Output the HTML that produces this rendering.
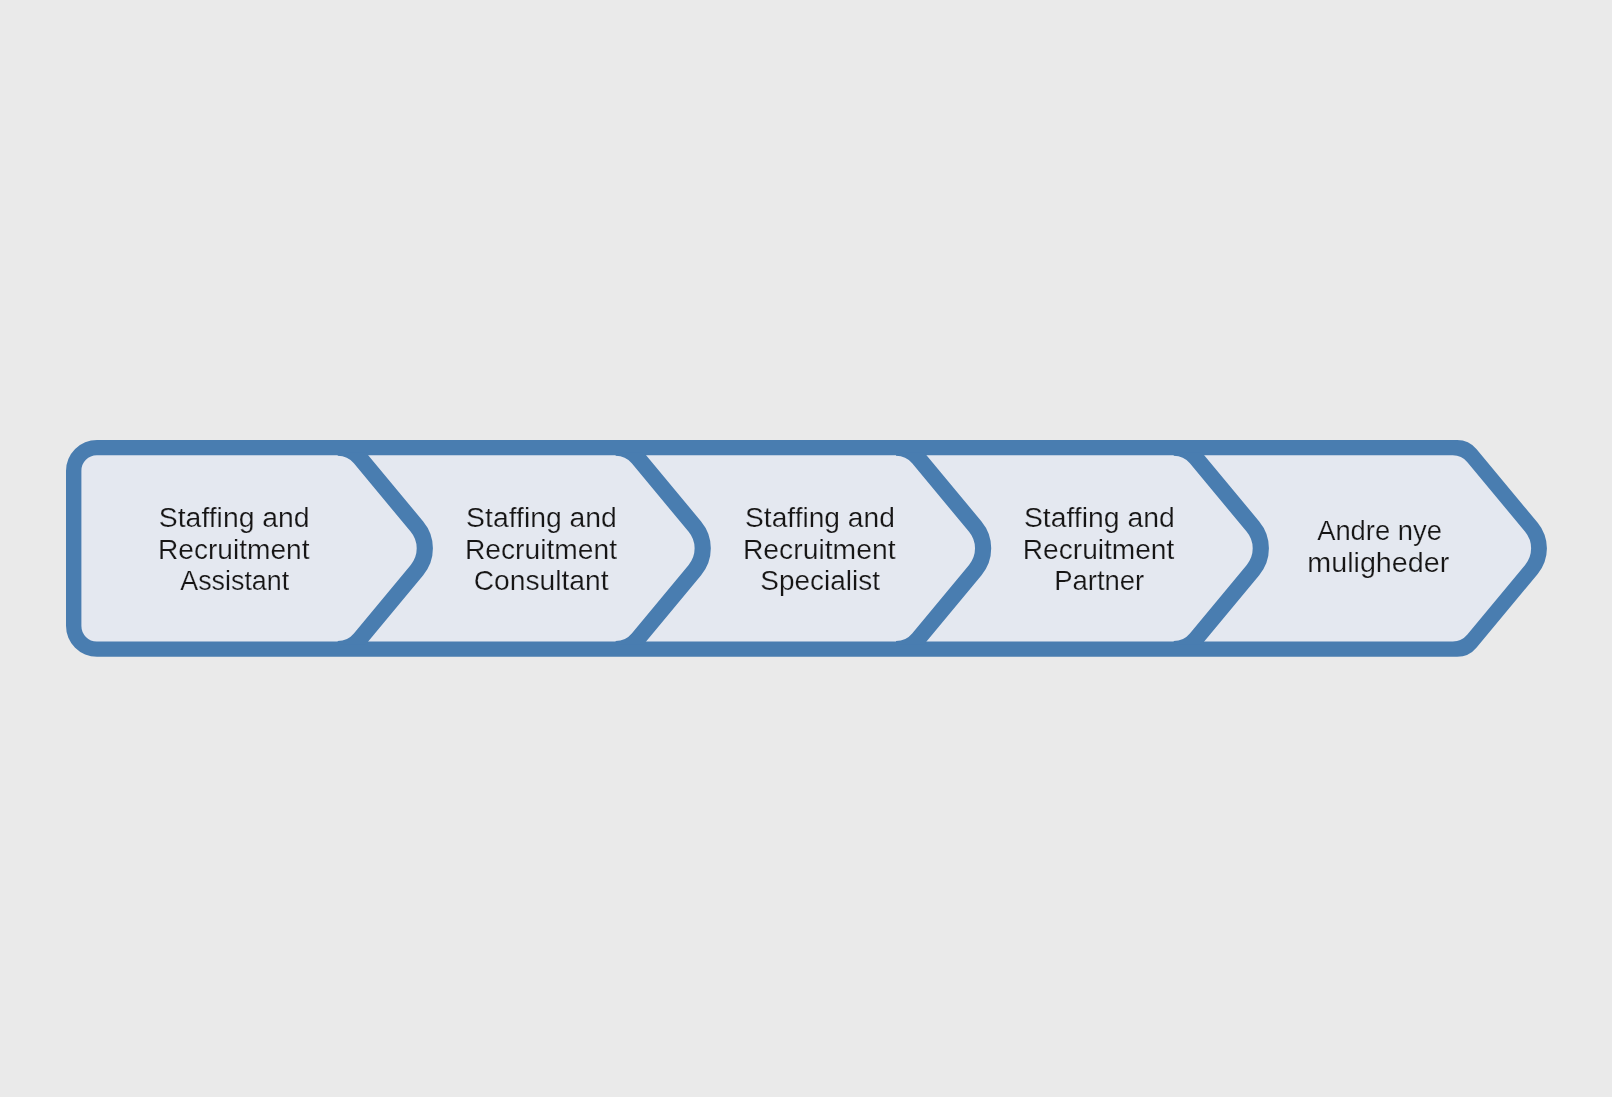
<!DOCTYPE html>
<html><head><meta charset="utf-8"><style>
html,body{margin:0;padding:0;background:#eaeaea;}
body{width:1612px;height:1097px;overflow:hidden;}
svg{display:block;}
text{font-family:"Liberation Sans",sans-serif;font-size:27px;fill:#161515;text-anchor:middle;stroke:#e4e8f0;stroke-width:0.2px;}
</style></head><body>
<svg width="1612" height="1097" viewBox="0 0 1612 1097">
<rect width="1612" height="1097" fill="#eaeaea"/>
<defs><clipPath id="cp"><rect x="0" y="452.3" width="1612" height="192.1"/></clipPath></defs>
<path d="M97 439.9 L1457.17 439.9 A25 25 0 0 1 1476.41 448.94 L1537.71 522.81 A40 40 0 0 1 1537.71 573.89 L1476.41 647.76 A25 25 0 0 1 1457.17 656.8 L97 656.8 A31 31 0 0 1 66 625.8 L66 470.9 A31 31 0 0 1 97 439.9 Z" fill="#497db0"/>
<path d="M96.8 455.3 L1452.76 455.3 A19 19 0 0 1 1467.38 462.17 L1525.12 531.75 A26 26 0 0 1 1525.12 564.95 L1467.38 634.53 A19 19 0 0 1 1452.76 641.4 L96.8 641.4 A15.4 15.4 0 0 1 81.4 626 L81.4 470.7 A15.4 15.4 0 0 1 96.8 455.3 Z" fill="#e4e8f0"/>
<g clip-path="url(#cp)">
<path d="M337.73 447.6 L337.78 447.6 A29 29 0 0 1 360.1 458.08 L416.98 526.64 A34 34 0 0 1 416.98 570.06 L360.1 638.62 A29 29 0 0 1 337.78 649.1 L337.73 649.1" fill="none" stroke="#497db0" stroke-width="16.2"/>
<path d="M615.63 447.6 L615.68 447.6 A29 29 0 0 1 638 458.08 L694.88 526.64 A34 34 0 0 1 694.88 570.06 L638 638.62 A29 29 0 0 1 615.68 649.1 L615.63 649.1" fill="none" stroke="#497db0" stroke-width="16.2"/>
<path d="M896.03 447.6 L896.08 447.6 A29 29 0 0 1 918.4 458.08 L975.28 526.64 A34 34 0 0 1 975.28 570.06 L918.4 638.62 A29 29 0 0 1 896.08 649.1 L896.03 649.1" fill="none" stroke="#497db0" stroke-width="16.2"/>
<path d="M1173.73 447.6 L1173.78 447.6 A29 29 0 0 1 1196.1 458.08 L1252.98 526.64 A34 34 0 0 1 1252.98 570.06 L1196.1 638.62 A29 29 0 0 1 1173.78 649.1 L1173.73 649.1" fill="none" stroke="#497db0" stroke-width="16.2"/>
</g>
<g opacity="0.999">
<text x="0" y="0" transform="translate(234.21 526.7) scale(1.0500 1)">Staffing and</text>
<text x="0" y="0" transform="translate(233.73 558.6) scale(1.0415 1)">Recruitment</text>
<text x="0" y="0" transform="translate(234.72 589.7) scale(0.9954 1)">Assistant</text>
<text x="0" y="0" transform="translate(541.49 526.7) scale(1.0500 1)">Staffing and</text>
<text x="0" y="0" transform="translate(540.98 558.6) scale(1.0456 1)">Recruitment</text>
<text x="0" y="0" transform="translate(541.09 589.7) scale(1.0456 1)">Consultant</text>
<text x="0" y="0" transform="translate(819.94 526.7) scale(1.0430 1)">Staffing and</text>
<text x="0" y="0" transform="translate(819.22 558.6) scale(1.0484 1)">Recruitment</text>
<text x="0" y="0" transform="translate(820.1 589.7) scale(1.0366 1)">Specialist</text>
<text x="0" y="0" transform="translate(1099.3 526.7) scale(1.0499 1)">Staffing and</text>
<text x="0" y="0" transform="translate(1098.56 558.6) scale(1.0415 1)">Recruitment</text>
<text x="0" y="0" transform="translate(1099.2 589.7) scale(1.0174 1)">Partner</text>
<text x="0" y="0" transform="translate(1379.53 539.8) scale(1.0142 1)">Andre nye</text>
<text x="0" y="0" transform="translate(1378.26 571.5) scale(1.0627 1)">muligheder</text>
</g>
</svg>
</body></html>
